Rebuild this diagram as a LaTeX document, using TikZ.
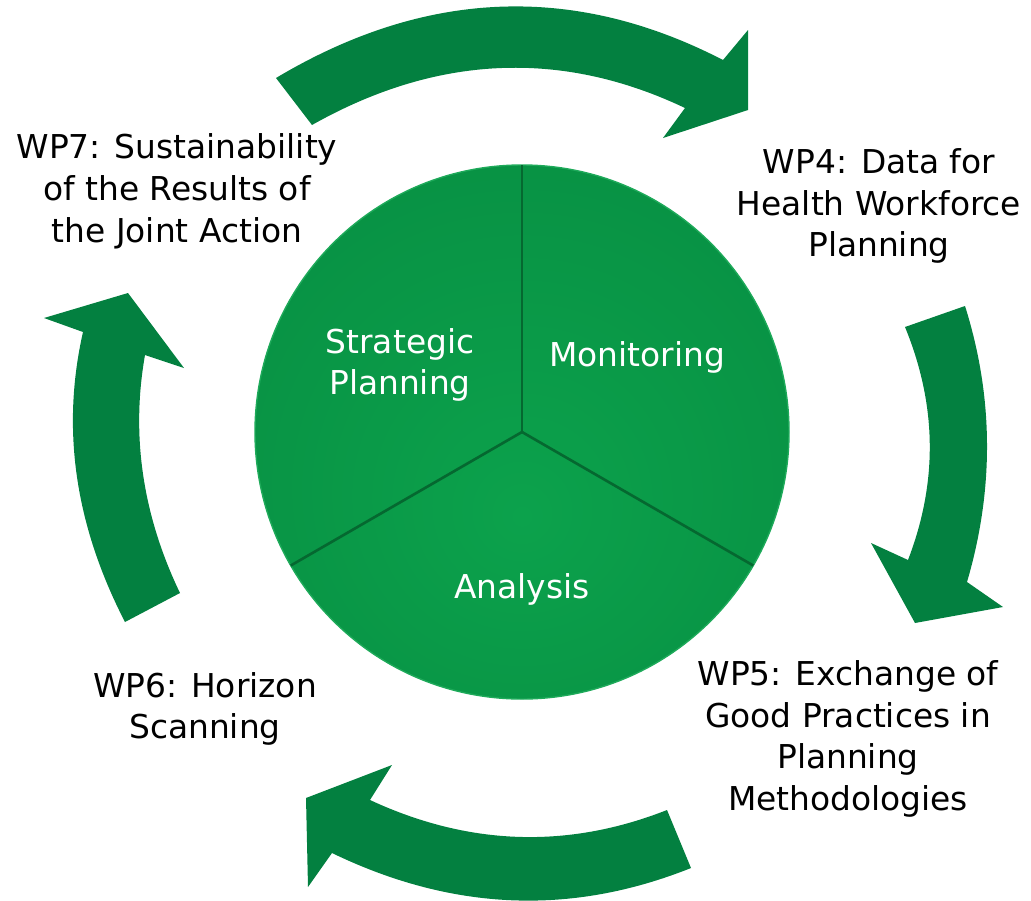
\documentclass[tikz,border=0pt]{standalone}
\usepackage{fontspec}
\setmainfont{DejaVu Sans}
\definecolor{arrowgreen}{RGB}{3,128,64}
\definecolor{pielight}{RGB}{12,162,76}
\definecolor{piemid}{RGB}{8,146,68}
\definecolor{piedark}{RGB}{6,120,56}
\definecolor{pieline}{RGB}{5,104,48}
\definecolor{pierim}{RGB}{30,170,90}
\pgfdeclareradialshading{pieglow}{\pgfpoint{0bp}{-8bp}}{color(0bp)=(pielight); color(30bp)=(piemid); color(62bp)=(piedark)}

\begin{document}
\begin{tikzpicture}[x=0.02cm,y=-0.02cm,
  blockarrow/.style={fill=arrowgreen},
  wplabel/.style={align=center,font=\fontsize{18.7}{23.8}\selectfont},
  sector/.style={wplabel,text=white}]

\useasboundingbox (0,0) rectangle (1031,900);

\coordinate (c) at (522,432);
\shade[shading=pieglow] (c) circle[radius=267];
\draw[pierim,line width=0.8pt] (c) circle[radius=267];
\foreach \a in {-90,30,150}
  \draw[pieline,line width=1.5pt] (c) -- ++(\a:267);

\node[sector] (strategic) at (400,365) {Strategic\\Planning};
\node[sector] (monitoring) at (637,357) {Monitoring};
\node[sector] (analysis) at (522,589) {Analysis};

\fill[blockarrow] (276,78) .. controls (425,-11) and (574,-17) .. (723,60) -- (748,30) -- (748,110)
  -- (663,138) -- (685,108) .. controls (561,49) and (436,55) .. (312,125) -- cycle;
\fill[blockarrow] (905,327) -- (965,306) .. controls (994,398) and (994,490) .. (967,582) -- (1003,607)
  -- (915,623) -- (871,543) -- (908,560) .. controls (938,482) and (937,405) .. (905,327) -- cycle;
\fill[blockarrow] (667,810) -- (691,868) .. controls (571,916) and (452,911) .. (332,853) -- (308,887)
  -- (306,798) -- (392,765) -- (370,800) .. controls (469,846) and (568,849) .. (667,810) -- cycle;
\fill[blockarrow] (180,593) -- (125,622) .. controls (75,525) and (61,429) .. (83,332) -- (44,318)
  -- (128,293) -- (184,368) -- (145,355) .. controls (131,434) and (142,514) .. (180,593) -- cycle;

\node[wplabel] (wp7) at (177,191) {WP7: Sustainability\\of the Results of\\the Joint Action};
\node[wplabel] (wp4) at (879,206) {WP4: Data for\\Health Workforce\\Planning};
\node[wplabel] (wp5) at (848,739) {WP5: Exchange of\\Good Practices in\\Planning\\Methodologies};
\node[wplabel] (wp6) at (205,709) {WP6: Horizon\\Scanning};
\end{tikzpicture}
\end{document}
